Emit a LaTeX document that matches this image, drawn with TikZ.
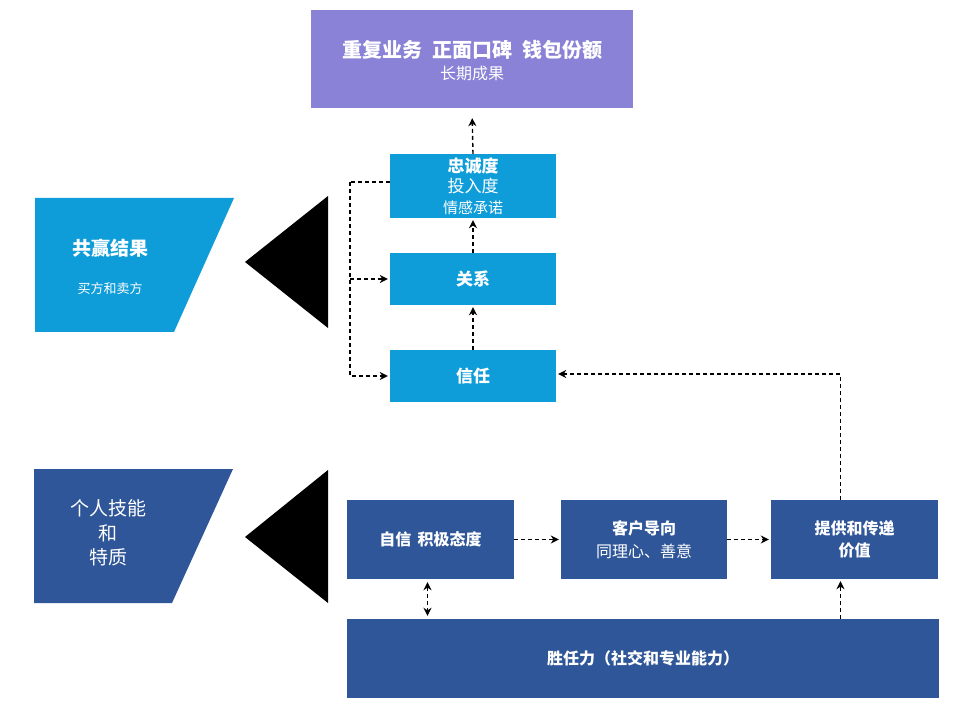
\documentclass[tikz,border=0pt]{standalone}
\usepackage{fontspec}
\setmainfont{Noto Sans CJK SC}
\usetikzlibrary{calc,arrows.meta}
\tikzset{>={Stealth[length=8pt,width=8pt]}}
\definecolor{goalpurple}{RGB}{137,130,214}
\definecolor{relblue}{RGB}{14,157,217}
\definecolor{skillblue}{RGB}{47,86,152}
\tikzset{
  box/.style={rectangle, text=white, align=center, inner sep=0pt},
  flow/.style={->, dash pattern=on 4pt off 3pt, line width=1.4pt, shorten >=2pt},
}

\begin{document}
\begin{tikzpicture}[x=1pt,y=-1pt]
      \useasboundingbox (0,0) rectangle (972,708);

      % long-term outcome
      \node[box, fill=goalpurple, minimum width=322pt, minimum height=98pt,
            font=\fontsize{20}{24}\selectfont] (outcome) at (472,59) {};
      \node[text=white, align=center, inner sep=0pt, font=\fontsize{20}{24}\selectfont] (outcometext) at (472,61)
        {\bfseries 重复业务\hspace{0.5em}正面口碑\hspace{0.5em}钱包份额\\[-2pt]
         \fontsize{16}{20}\selectfont 长期成果};

      % relationship ladder
      \node[box, fill=relblue, minimum width=166pt, minimum height=64pt,
            font=\fontsize{17}{20}\selectfont] (loyal) at (473,186)
        {\bfseries 忠诚度\\[0pt]
         投入度\\[1pt]
         \fontsize{15}{19}\selectfont 情感承诺};
      \node[box, fill=relblue, minimum width=166pt, minimum height=52pt,
            font=\fontsize{17}{20}\selectfont\bfseries] (rel) at (473,279) {关系};
      \node[box, fill=relblue, minimum width=166pt, minimum height=52pt,
            font=\fontsize{17}{20}\selectfont\bfseries] (trust) at (473,376) {信任};

      \draw[flow, shorten >=10pt] (loyal.north) -- (outcome.south);
      \draw[flow] (rel.north) -- (loyal.south);
      \draw[flow] (trust.north) -- (rel.south);

      \coordinate (loopturn) at ($(loyal.west)+(-40,-4)$);
      \coordinate (relturn) at (loopturn |- rel.west);
      \draw[dash pattern=on 4pt off 3pt, line width=1.4pt] ($(loyal.west)+(0,-4)$) -- (loopturn);
      \draw[flow] (loopturn) |- (trust.west);
      \draw[flow] (relturn) -- (rel.west);

      % win-win
      \fill[relblue] (35,198) -- (234,198) -- (174,332) -- (35,332) -- cycle;
      \node[text=white, align=center, font=\fontsize{19}{22}\selectfont] (winwin) at (110,267)
        {\bfseries 共赢结果\\[16pt]
         \fontsize{13}{16}\selectfont 买方和卖方};
      \fill (245,262) -- (328,196) -- (328,328) -- cycle;

      % personal skills
      \fill[skillblue] (34,469) -- (233,469) -- (172,603) -- (34,603) -- cycle;
      \node[text=white, align=center, font=\fontsize{19}{24.5}\selectfont] (skills) at (108,533)
        {个人技能\\和\\特质};
      \fill (245,537) -- (328,470) -- (328,603) -- cycle;

      \node[box, fill=skillblue, minimum width=167pt, minimum height=79pt,
            font=\fontsize{16}{20}\selectfont\bfseries] (self) at (430.5,539.5)
        {自信\hspace{0.4em}积极态度};
      \node[box, fill=skillblue, minimum width=166pt, minimum height=79pt,
            font=\fontsize{16}{20}\selectfont] (cust) at (644,539.5)
        {\bfseries 客户导向\\[3pt]
         同理心、善意};
      \node[box, fill=skillblue, minimum width=167pt, minimum height=79pt,
            font=\fontsize{16}{20}\selectfont\bfseries] (value) at (854.5,539.5)
        {提供和传递\\[2pt]价值};
      \node[box, fill=skillblue, minimum width=592pt, minimum height=79pt,
            font=\fontsize{16}{20}\selectfont\bfseries] (comp) at (643,658.5)
        {胜任力（社交和专业能力）};

      \draw[flow] (self.east) -- (cust.west);
      \draw[flow] (cust.east) -- (value.west);
      \draw[flow, <->, shorten <=3pt, shorten >=3pt] ($(self.south)+(-3,0)$) -- ($(comp.north -| self.south)+(-3,0)$);

      \coordinate (valueup) at ($(value.north)+(-14,0)$);
      \draw[flow] (comp.north -| valueup) -- (value.south -| valueup);
      \draw[flow] (valueup) |- ($(trust.east)+(0,-2)$);
\end{tikzpicture}
\end{document}
